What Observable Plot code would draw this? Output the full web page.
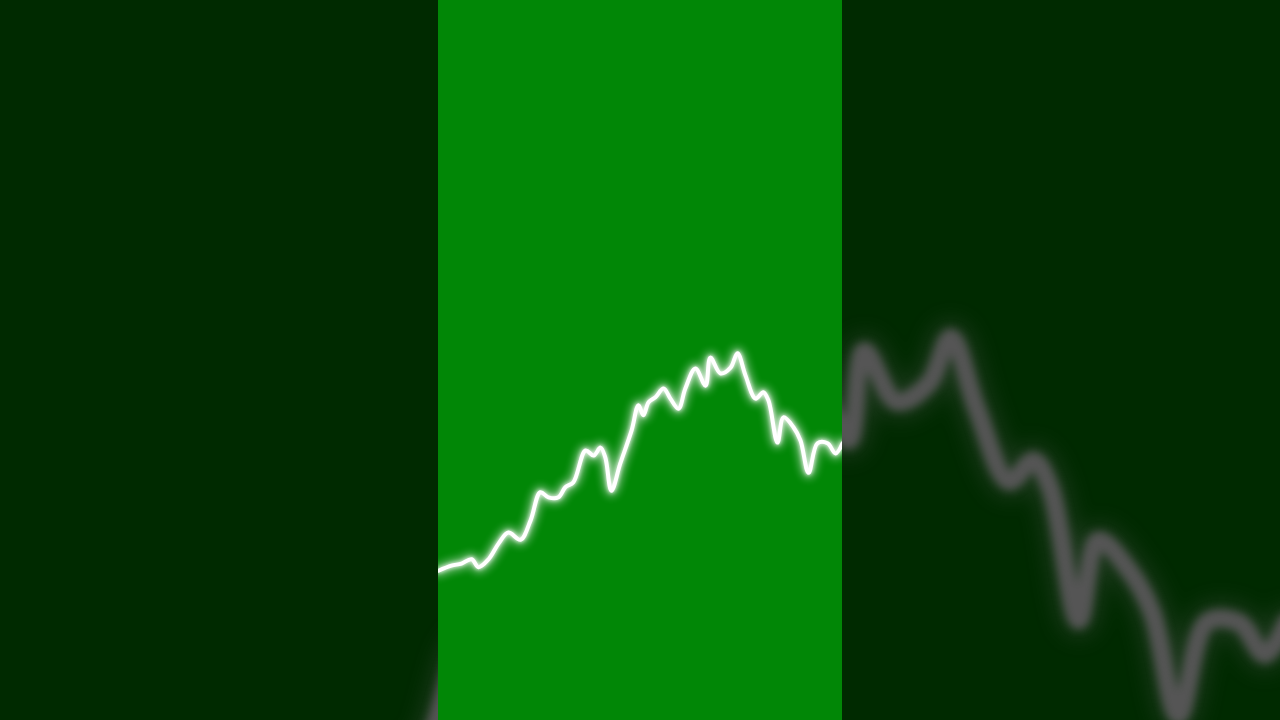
<!DOCTYPE html>
<html>
<head>
<meta charset="utf-8">
<script src="https://cdn.jsdelivr.net/npm/d3@7"></script>
<script src="https://cdn.jsdelivr.net/npm/@observablehq/plot@0.6"></script>
<style>
  html, body { margin: 0; padding: 0; background: #002a00; overflow: hidden; }
  #stage { position: relative; width: 1280px; height: 720px; overflow: hidden; background: #002a00; }
  #bg, #fg { position: absolute; top: 0; }
  #bg { left: 0; }
  #fg { left: 438px; }
  svg { display: block; }
</style>
</head>
<body>
<div id="stage"><div id="bg"></div><div id="fg"></div></div>
<script>
// time (0–100 across the panel) and value (0–100 of panel height)
const t = [0, 3.2, 5.7, 8.2, 9.9, 12.4, 14.9, 17.3, 20.3, 22.8, 25.2, 27.2, 29.7, 31.4, 33.4,
  36.4, 38.4, 40.1, 41.3, 42.8, 45.0, 47.8, 49.5, 50.7, 52.0, 53.7, 55.7, 57.4, 59.4, 61.1,
  63.6, 66.1, 67.3, 69.8, 72.3, 74.0, 76.0, 78.5, 80.4, 81.7, 83.9, 85.4, 87.9, 89.6, 91.6,
  93.8, 96.3, 98.3, 100];
const value = [20.8, 21.5, 21.8, 22.4, 21.3, 22.4, 24.6, 26.1, 25.1, 27.8, 31.7, 31.0, 31.0, 32.4, 33.1,
  37.5, 36.8, 37.9, 36.5, 31.9, 35.7, 40.3, 43.8, 42.4, 44.2, 44.9, 46.1, 44.7, 43.3, 46.1,
  48.9, 46.5, 50.4, 48.2, 49.0, 51.0, 47.9, 44.7, 45.6, 44.4, 38.6, 42.1, 40.7, 38.9, 34.4,
  38.5, 38.5, 37.1, 38.5];

const data = t.map((d, i) => ({t: d, v: value[i]}));

// Blurred, magnified background copy
const bg = Plot.plot({
  width: 1280, height: 720, margin: 0,
  style: {background: "#002a00", overflow: "hidden"},
  x: {domain: [0.5, 99.5], axis: null},
  y: {domain: [34.2, 65.8], axis: null},
  marks: [
    Plot.line(data, {x: "t", y: "v", stroke: "#5a5a5a", strokeWidth: 34, strokeOpacity: 0.3, curve: "catmull-rom", clip: true}),
    Plot.line(data, {x: "t", y: "v", stroke: "#555555", strokeWidth: 18, curve: "catmull-rom", clip: true})
  ]
});
document.getElementById("bg").appendChild(bg);
const bgLines = bg.querySelectorAll('[aria-label="line"]');
bgLines[0].style.filter = "blur(10px)";
bgLines[1].style.filter = "blur(4px)";

// Foreground center panel
const fg = Plot.plot({
  width: 404, height: 720, margin: 0,
  style: {background: "#018706", overflow: "hidden"},
  x: {domain: [0, 100], axis: null},
  y: {domain: [0, 100], axis: null},
  marks: [
    Plot.line(data, {x: "t", y: "v", stroke: "white", strokeWidth: 11, strokeOpacity: 0.5, curve: "catmull-rom", strokeLinejoin: "round", clip: true}),
    Plot.line(data, {x: "t", y: "v", stroke: "white", strokeWidth: 4, curve: "catmull-rom", strokeLinejoin: "round", clip: true})
  ]
});
document.getElementById("fg").appendChild(fg);
const fgLines = fg.querySelectorAll('[aria-label="line"]');
fgLines[0].style.filter = "blur(4px)";
fgLines[1].style.filter = "drop-shadow(0 0 2px white)";
</script>
</body>
</html>
